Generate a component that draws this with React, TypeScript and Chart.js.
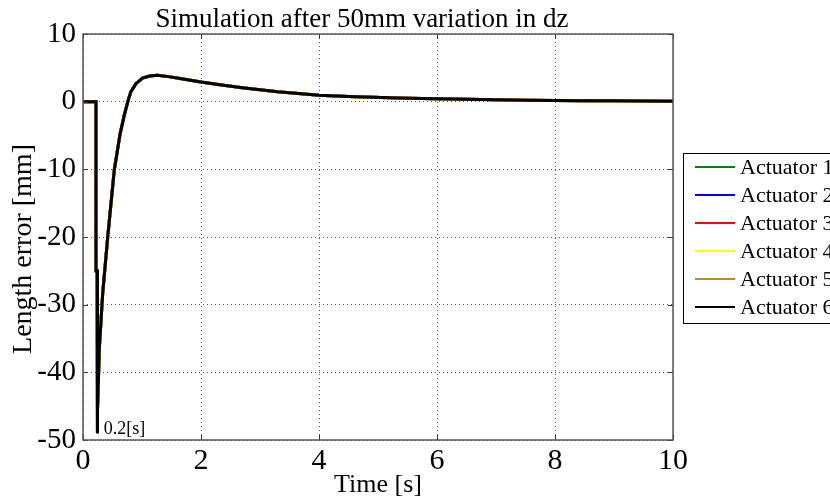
import React, { useEffect, useRef } from "react";
import { Chart, registerables } from "chart.js";

Chart.register(...registerables);

// ---- data ----
const timeS = [
  0, 0.22, 0.22, 0.24, 0.24, 0.25, 0.277, 0.333, 0.418, 0.53, 0.63, 0.7, 0.76, 0.81,
  0.9, 1.01, 1.13, 1.26, 1.45, 1.67, 2.0, 2.35, 2.7, 3.0, 3.3, 3.65, 4.0, 4.5,
  5.05, 5.5, 6.0, 6.5, 7.0, 7.5, 8.0, 8.5, 9.0, 9.5, 10.0,
];
const actuator6 = [
  0, 0, -25, -25, -49, -45.7, -36.4, -28.4, -20.1, -10.1, -4.7, -2.0, 0, 1.45, 2.7,
  3.5, 3.8, 3.9, 3.7, 3.4, 2.9, 2.45, 2.05, 1.75, 1.45, 1.2, 0.96, 0.77, 0.62,
  0.52, 0.42, 0.34, 0.27, 0.22, 0.17, 0.14, 0.12, 0.09, 0.07,
];
const actuator1 = [...actuator6];
const actuator2 = [...actuator6];
const actuator3 = [...actuator6];
const actuator4 = [...actuator6];
const actuator5 = [...actuator6];

const seriesNames = ["Actuator 1", "Actuator 2", "Actuator 3", "Actuator 4", "Actuator 5", "Actuator 6"];
const seriesValues = [actuator1, actuator2, actuator3, actuator4, actuator5, actuator6];
const seriesColors = ["#008000", "#0000ff", "#ff0000", "#ffff00", "#c8862a", "#000000"];

const xTickValues = [0, 2, 4, 6, 8, 10];
const yTickValues = [10, 0, -10, -20, -30, -40, -50];

const titleText = "Simulation after 50mm variation in dz";
const xTitle = "Time [s]";
const yTitle = "Length error [mm]";
const annotationText = "0.2[s]";

const SERIF = "'Liberation Serif', 'Times New Roman', serif";

const decorPlugin = {
  id: "decor",
  afterDraw(chart: any) {
    const { ctx, chartArea: a, scales } = chart;
    const xs = scales.x;
    const ys = scales.y;
    ctx.save();

    // inner tick marks
    ctx.strokeStyle = "#333";
    ctx.lineWidth = 1;
    ctx.setLineDash([]);
    const tl = 5;
    for (const v of xTickValues) {
      const px = Math.round(xs.getPixelForValue(v)) + 0.5;
      ctx.beginPath();
      ctx.moveTo(px, a.bottom);
      ctx.lineTo(px, a.bottom - tl);
      ctx.moveTo(px, a.top);
      ctx.lineTo(px, a.top + tl);
      ctx.stroke();
    }
    for (const v of yTickValues) {
      const py = Math.round(ys.getPixelForValue(v)) + 0.5;
      ctx.beginPath();
      ctx.moveTo(a.left, py);
      ctx.lineTo(a.left + tl, py);
      ctx.moveTo(a.right, py);
      ctx.lineTo(a.right - tl, py);
      ctx.stroke();
    }

    // axes box
    ctx.strokeStyle = "#555";
    ctx.lineWidth = 1.5;
    ctx.strokeRect(a.left, a.top, a.right - a.left, a.bottom - a.top);

    // title
    ctx.fillStyle = "#000";
    ctx.font = `27px ${SERIF}`;
    ctx.textAlign = "center";
    ctx.textBaseline = "alphabetic";
    ctx.fillText(titleText, (a.left + a.right) / 2 - 16, 27);

    // axis titles
    ctx.font = `26px ${SERIF}`;
    ctx.fillText(xTitle, (a.left + a.right) / 2, 492);
    ctx.save();
    ctx.translate(31, 249);
    ctx.rotate(-Math.PI / 2);
    ctx.font = `28px ${SERIF}`;
    ctx.fillText(yTitle, 0, 0);
    ctx.restore();

    // annotation
    ctx.font = `18px ${SERIF}`;
    ctx.textAlign = "left";
    ctx.textBaseline = "middle";
    ctx.fillText(annotationText, xs.getPixelForValue(0.35), ys.getPixelForValue(-48.4));

    // legend
    const lx = 683;
    const ly = 153;
    ctx.fillStyle = "#fff";
    ctx.fillRect(lx, ly, 170, 170);
    ctx.strokeStyle = "#000";
    ctx.lineWidth = 1;
    ctx.strokeRect(lx + 0.5, ly + 0.5, 170, 170);
    ctx.font = `22px ${SERIF}`;
    ctx.textBaseline = "middle";
    seriesNames.forEach((name, i) => {
      const y = ly + 14 + i * 28;
      ctx.strokeStyle = seriesColors[i];
      ctx.lineWidth = 2;
      ctx.beginPath();
      ctx.moveTo(lx + 12, y);
      ctx.lineTo(lx + 52, y);
      ctx.stroke();
      ctx.fillStyle = "#000";
      ctx.fillText(name, lx + 57, y + 1);
    });

    ctx.restore();
  },
};

export default function App() {
  const ref = useRef<HTMLCanvasElement | null>(null);

  useEffect(() => {
    if (!ref.current) return;
    const datasets = seriesNames
      .map((name, i) => ({
        label: name,
        data: timeS.map((t, k) => ({ x: t, y: seriesValues[i][k] })),
        borderColor: seriesColors[i],
        backgroundColor: seriesColors[i],
        borderWidth: 3,
        pointRadius: 0,
        tension: 0,
        fill: false,
      }))
      .reverse();

    const chart = new Chart(ref.current, {
      type: "line",
      data: { datasets },
      options: {
        animation: false,
        responsive: false,
        devicePixelRatio: 1,
        layout: { padding: { left: 0, right: 157, top: 34, bottom: 0 } },
        plugins: {
          legend: { display: false },
          title: { display: false },
          tooltip: { enabled: false },
        },
        scales: {
          x: {
            type: "linear",
            min: 0,
            max: 10,
            afterFit: (s: any) => {
              s.height = 59;
            },
            afterBuildTicks: (s: any) => {
              s.ticks = xTickValues.map((v) => ({ value: v }));
            },
            ticks: {
              color: "#000",
              font: { family: SERIF, size: 30 },
              padding: 3,
              maxRotation: 0,
            },
            grid: {
              color: "#555",
              lineWidth: 1,
              drawTicks: false,
            },
            border: { display: false, dash: [1, 3] },
            title: { display: false },
          },
          y: {
            type: "linear",
            min: -50,
            max: 10,
            afterFit: (s: any) => {
              s.width = 83;
            },
            afterBuildTicks: (s: any) => {
              s.ticks = yTickValues.map((v) => ({ value: v }));
            },
            ticks: {
              color: "#000",
              font: { family: SERIF, size: 29 },
              padding: 7,
            },
            grid: {
              color: "#555",
              lineWidth: 1,
              drawTicks: false,
            },
            border: { display: false, dash: [1, 3] },
            title: { display: false },
          },
        },
      },
      plugins: [decorPlugin],
    });
    return () => chart.destroy();
  }, []);

  return (
    <div style={{ position: "absolute", left: 0, top: 0, width: 830, height: 499, background: "#fff" }}>
      <canvas ref={ref} width={830} height={499} style={{ display: "block" }} />
    </div>
  );
}
